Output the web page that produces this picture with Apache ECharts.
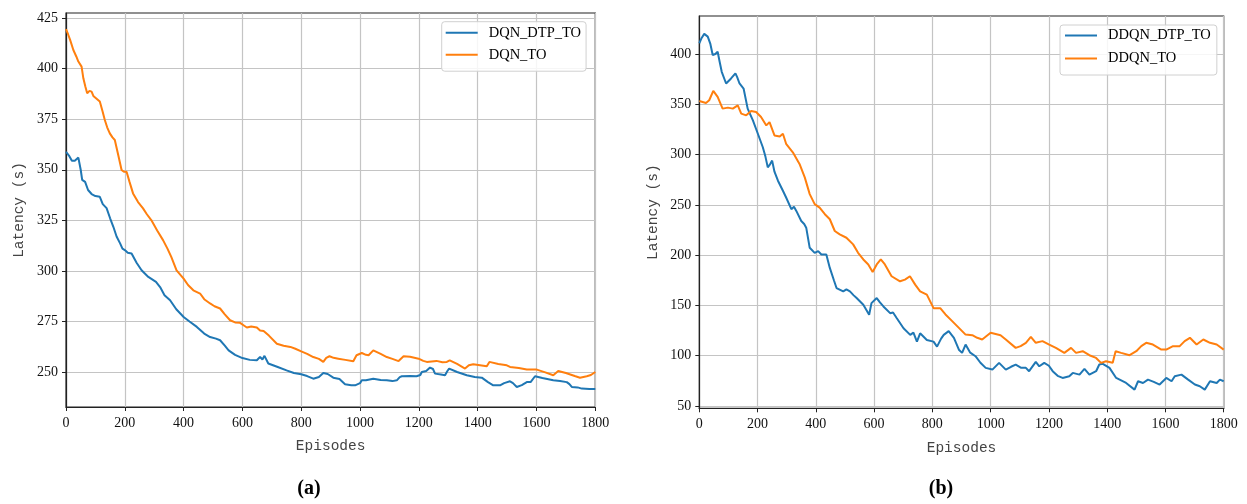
<!DOCTYPE html>
<html>
<head>
<meta charset="utf-8">
<script src="https://cdn.jsdelivr.net/npm/echarts@6/dist/echarts.min.js"></script>
<style>
html, body { margin: 0; padding: 0; background: #fff; }
#chart01 { width: 1247px; height: 504px; }
</style>
</head>
<body>
<div id="chart01"></div>
<script>
// (a) DQN
var epA_dtp  = [0, 10, 20, 30, 42, 50, 55, 65, 75, 87, 100, 115, 125, 138, 150, 161, 172, 184, 192, 200, 210, 223, 240, 257, 280, 306, 320, 335, 354, 375, 400, 420, 445, 470, 490, 510, 524, 540, 553, 575, 600, 625, 649, 660, 668, 675, 688, 720, 750, 775, 800, 820, 841, 860, 875, 890, 909, 930, 949, 970, 983, 1000, 1006, 1020, 1045, 1070, 1091, 1110, 1125, 1135, 1142, 1170, 1192, 1205, 1210, 1225, 1238, 1248, 1255, 1275, 1289, 1297, 1303, 1330, 1363, 1390, 1414, 1435, 1453, 1476, 1490, 1510, 1520, 1533, 1550, 1567, 1580, 1595, 1620, 1657, 1680, 1703, 1712, 1720, 1740, 1754, 1780, 1800];
var latA_dtp = [358.9, 357, 354.5, 354.5, 356, 350, 345, 344, 340, 338, 337, 336.6, 333, 331, 326, 321.8, 317, 313.6, 311, 310.3, 309, 308.6, 304, 300.3, 297, 294.6, 292, 288, 285.5, 281, 277.2, 275, 272.3, 269, 267.3, 266.5, 265.7, 263, 260.7, 258.5, 256.9, 256, 255.8, 257.5, 256.2, 258, 254.2, 252.5, 250.8, 249.5, 248.9, 248, 246.7, 247.5, 249.5, 249, 247.2, 246.5, 243.9, 243.5, 243.4, 244.5, 245.9, 245.9, 246.7, 246, 245.9, 245.5, 245.9, 247.5, 247.9, 248, 247.9, 248.5, 250, 250.5, 252.2, 251.5, 249.2, 248.8, 248.4, 250.5, 251.7, 250, 248.4, 247.5, 247.2, 245, 243.4, 243.4, 244.5, 245.4, 244.5, 242.6, 243.5, 245, 245, 247.9, 247, 245.9, 245.5, 245, 244, 242.6, 242.4, 241.8, 241.6, 241.6];
var epA_to   = [0, 7, 14, 25, 35, 42, 53, 59, 66, 72, 80, 87, 93, 105, 115, 124, 132, 140, 149, 158, 166, 178, 189, 197, 206, 216, 228, 245, 262, 275, 290, 310, 330, 345, 358, 376, 400, 415, 433, 456, 470, 490, 505, 524, 540, 558, 575, 592, 605, 615, 630, 649, 660, 672, 690, 717, 740, 763, 780, 800, 820, 841, 860, 875, 885, 896, 910, 926, 950, 977, 988, 1006, 1020, 1029, 1045, 1070, 1091, 1110, 1131, 1148, 1170, 1199, 1215, 1227, 1260, 1280, 1295, 1305, 1330, 1357, 1370, 1385, 1431, 1440, 1470, 1499, 1510, 1540, 1567, 1601, 1630, 1657, 1674, 1700, 1730, 1748, 1771, 1785, 1800];
var latA_to  = [419.5, 417, 414.2, 409.2, 406, 403.5, 401, 395.2, 391, 387.8, 389, 388.6, 386.5, 385, 383.7, 379, 374.6, 371, 368, 366, 364.7, 357, 349.9, 349, 349, 344, 338.3, 334, 330.9, 328, 325.1, 320, 315.2, 311, 306.9, 300.3, 296.2, 293, 290.4, 288.8, 286, 283.9, 282.5, 281.4, 278.5, 275.6, 274.5, 274.3, 273, 272, 272.5, 272, 270.5, 270.3, 268, 264, 263, 262.4, 261.5, 260.2, 259, 257.4, 256.5, 255, 257, 257.8, 257, 256.6, 256, 255.3, 258.3, 259.4, 258.5, 258.3, 260.7, 259, 257.4, 256.5, 255.4, 257.8, 257.5, 256.6, 255.5, 255, 255.5, 254.8, 255, 255.8, 254, 251.7, 253.3, 253.8, 252.8, 255, 254, 253.3, 252.5, 252, 251.2, 251.2, 249.8, 248.4, 250.5, 249.5, 248, 247.2, 247.9, 248.5, 250];

// (b) DDQN
var epB_dtp  = [0, 8, 17, 29, 38, 46, 55, 63, 70, 77, 92, 109, 124, 130, 138, 152, 166, 184, 201, 218, 227, 235, 242, 250, 258, 270, 287, 298, 316, 325, 333, 350, 360, 367, 379, 396, 408, 419, 436, 448, 462, 471, 494, 505, 517, 530, 540, 563, 583, 591, 609, 620, 632, 655, 665, 678, 701, 724, 735, 747, 758, 781, 804, 816, 830, 839, 856, 862, 874, 891, 902, 914, 930, 948, 965, 983, 1006, 1029, 1052, 1070, 1086, 1105, 1121, 1132, 1155, 1167, 1184, 1200, 1213, 1230, 1247, 1270, 1282, 1305, 1322, 1339, 1362, 1373, 1385, 1408, 1431, 1465, 1494, 1506, 1523, 1540, 1560, 1580, 1603, 1621, 1632, 1655, 1678, 1701, 1718, 1735, 1753, 1776, 1787, 1800];
var latB_dtp = [410.7, 416, 420, 417.3, 410, 399, 400, 402.3, 392, 382.3, 370.7, 375.7, 380.7, 377, 370.7, 365.7, 345.7, 334, 320.7, 307.3, 298, 287.3, 290, 294, 283, 274, 264, 257.3, 245.7, 248, 244, 234, 231, 227.3, 207.3, 202.3, 204, 200.7, 200.7, 187.3, 175, 167.3, 164, 166, 164, 160, 157.3, 150.7, 140.7, 152.3, 157.3, 153, 149, 142.3, 143, 137.3, 127.3, 120.7, 123, 114, 122.3, 115.7, 114, 109, 117, 120.7, 124.4, 126, 117.8, 106, 102.8, 111.1, 103, 99.5, 93, 87.9, 86.2, 92.9, 86.2, 89, 91.2, 88, 87.9, 84.6, 93.9, 89.5, 92.9, 90, 84.6, 80, 77.9, 79.6, 82.9, 81.2, 86.9, 81.2, 84.6, 91.2, 91.9, 87.9, 77.9, 72.9, 66.3, 74.6, 72.9, 76.2, 74, 71.3, 77.9, 74.6, 79.6, 81.2, 76.2, 71.3, 69.6, 66.3, 74.6, 72.9, 76.2, 74.6];
var epB_to   = [0, 23, 34, 48, 63, 80, 98, 115, 132, 144, 161, 178, 195, 212, 230, 241, 258, 276, 287, 298, 321, 344, 362, 379, 396, 413, 431, 448, 465, 482, 505, 528, 545, 563, 580, 595, 609, 623, 637, 660, 689, 706, 723, 741, 758, 781, 804, 827, 845, 868, 891, 914, 937, 954, 971, 1000, 1034, 1052, 1086, 1103, 1121, 1138, 1155, 1178, 1201, 1224, 1253, 1276, 1293, 1316, 1339, 1362, 1379, 1396, 1419, 1429, 1448, 1477, 1500, 1517, 1534, 1557, 1586, 1603, 1626, 1649, 1666, 1684, 1707, 1730, 1753, 1776, 1800];
var latB_to  = [353.3, 351.3, 354, 363.3, 357.3, 345.7, 346.7, 345.7, 349, 340.7, 339, 343.3, 342.3, 337.3, 329, 332.3, 319, 318, 320.7, 310.7, 302.3, 290.7, 277.3, 260.7, 250.7, 247.3, 240.7, 235.7, 224, 220.7, 217.3, 210.7, 202.3, 195.7, 190.7, 183.3, 190.7, 195.7, 190.7, 179, 174, 175.7, 179, 170.7, 164, 160.7, 147.3, 147.3, 141, 134.4, 127.7, 121, 120.4, 117.8, 116.1, 122.8, 120.4, 116.1, 107.8, 109.5, 112.8, 118.8, 112.8, 114.5, 111.1, 107.8, 102.8, 107.8, 102.8, 104.5, 100.5, 97.8, 92.9, 94.5, 92.9, 104.5, 102.8, 100.5, 104.5, 109.5, 112.8, 111.1, 106.1, 106.1, 109.5, 109.5, 114.5, 117.8, 111.1, 116.1, 112.8, 111.1, 106.1];

var yTicksA = [250, 275, 300, 325, 350, 375, 400, 425];
var yTicksB = [50, 100, 150, 200, 250, 300, 350, 400];

var colorDtp = '#1f77b4';
var colorTo  = '#ff7f0e';

function toPairs(xs, ys) {
    var out = [];
    for (var i = 0; i < xs.length; i++) {
        out.push([xs[i], ys[i]]);
    }
    return out;
}

var tickFont  = { fontFamily: 'Liberation Serif', fontSize: 14, color: '#111' };
var nameFont  = { fontFamily: 'Liberation Mono', fontSize: 14.5, color: '#444' };
var gridLine  = { show: true, lineStyle: { color: '#c4c4c4', width: 1.2 } };
var axisLine  = { show: true, lineStyle: { color: '#222', width: 1.2 } };

function plain(v) { return String(v); }

function xAxisCfg(idx) {
    return {
        type: 'value', gridIndex: idx, min: 0, max: 1800, interval: 200,
        name: 'Episodes', nameLocation: 'middle', nameGap: 32, nameTextStyle: nameFont,
        axisLine: axisLine,
        axisTick: { show: true, inside: false, length: 4, lineStyle: { color: '#222' } },
        axisLabel: Object.assign({ margin: 9, formatter: plain }, tickFont),
        splitLine: gridLine
    };
}

function yAxisCfg(idx, lo, hi, ticks) {
    return {
        type: 'value', gridIndex: idx, min: lo, max: hi,
        name: 'Latency (s)', nameLocation: 'middle', nameGap: 39, nameTextStyle: nameFont,
        axisLine: axisLine,
        axisTick: { show: true, inside: false, length: 4, customValues: ticks, lineStyle: { color: '#222' } },
        axisLabel: Object.assign({ margin: 8, customValues: ticks, formatter: plain }, tickFont),
        splitLine: gridLine
    };
}

function lineSeries(name, idx, xs, ys, color) {
    return {
        name: name, type: 'line', xAxisIndex: idx, yAxisIndex: idx,
        data: toPairs(xs, ys), showSymbol: false, symbol: 'none',
        lineStyle: { color: color, width: 2 }, itemStyle: { color: color }
    };
}

var legendText = { fontFamily: 'Liberation Serif', fontSize: 14.5, color: '#000', padding: [0, 0, 0, 6] };

function caption(letter, x) {
    return {
        text: '{p|(}{b|' + letter + '}{p|)}', left: x, top: 474, textAlign: 'center',
        textStyle: { rich: {
            p: { fontFamily: 'Liberation Serif', fontSize: 20, color: '#000' },
            b: { fontFamily: 'Liberation Serif', fontSize: 20, fontWeight: 'bold', color: '#000' }
        } }
    };
}

var cha01 = echarts.init(document.getElementById('chart01'));
var opt01 = {
    animation: false,
    backgroundColor: '#fff',
    title: [caption('a', 304), caption('b', 936)],
    legend: [
        {
            data: ['DQN_DTP_TO', 'DQN_TO'], orient: 'vertical', left: 441.7, top: 21.7,
            itemWidth: 32, itemHeight: 14, itemGap: 7, padding: [3.5, 5, 9, 3],
            itemStyle: { opacity: 0 },
            borderColor: '#d0d0d0', borderWidth: 1, borderRadius: 3, backgroundColor: 'rgba(255,255,255,0.85)',
            textStyle: legendText
        },
        {
            data: ['DDQN_DTP_TO', 'DDQN_TO'], orient: 'vertical', left: 1060, top: 25,
            itemWidth: 32, itemHeight: 14, itemGap: 8, padding: [3, 6, 9, 4],
            itemStyle: { opacity: 0 },
            borderColor: '#d0d0d0', borderWidth: 1, borderRadius: 3, backgroundColor: 'rgba(255,255,255,0.85)',
            textStyle: legendText
        }
    ],
    grid: [
        { left: 66, top: 13, width: 529.3, height: 394, show: true, borderColor: '#222', borderWidth: 1.2, backgroundColor: 'transparent' },
        { left: 699.3, top: 16, width: 524.4, height: 392.3, show: true, borderColor: '#222', borderWidth: 1.2, backgroundColor: 'transparent' }
    ],
    xAxis: [xAxisCfg(0), xAxisCfg(1)],
    yAxis: [yAxisCfg(0, 232.7, 427.5, yTicksA), yAxisCfg(1, 47.7, 437.8, yTicksB)],
    series: [
        lineSeries('DQN_DTP_TO', 0, epA_dtp, latA_dtp, colorDtp),
        lineSeries('DQN_TO', 0, epA_to, latA_to, colorTo),
        lineSeries('DDQN_DTP_TO', 1, epB_dtp, latB_dtp, colorDtp),
        lineSeries('DDQN_TO', 1, epB_to, latB_to, colorTo)
    ]
};
cha01.setOption(opt01);
</script>
</body>
</html>
